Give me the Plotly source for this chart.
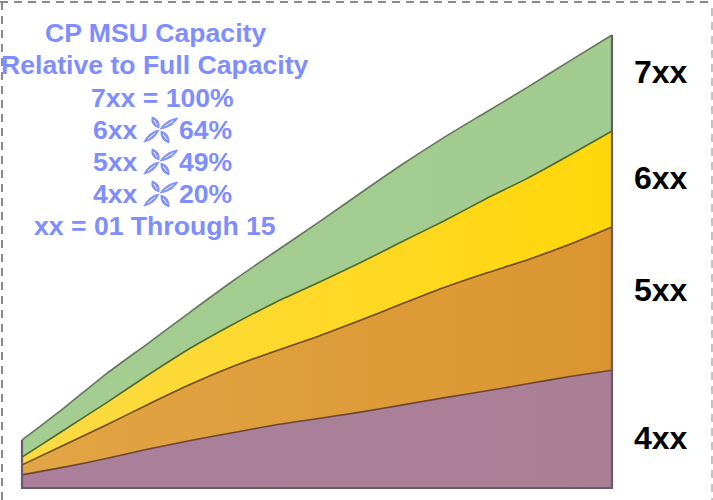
import plotly.graph_objects as go

WIDTH, HEIGHT = 713, 500

# Number of engines on the model range, and cumulative capacity as % of the largest box
engines = [1, 2, 3, 4, 5, 6, 7, 8, 9, 10, 11, 12, 13, 14, 15]
cap_7xx = [10.6, 17.7, 25.2, 32.0, 38.9, 45.7, 52.1, 58.4, 64.9, 71.3, 77.3, 82.9, 88.5, 94.3, 100.0]
cap_6xx = [6.8, 12.8, 18.8, 25.0, 30.9, 36.1, 40.9, 45.2, 49.6, 54.3, 58.9, 63.8, 68.4, 73.5, 78.8]
cap_5xx = [5.1, 9.5, 13.9, 18.5, 22.9, 26.8, 30.2, 33.4, 36.9, 40.6, 44.2, 47.4, 50.4, 53.8, 57.6]
cap_4xx = [2.9, 4.6, 6.5, 8.6, 10.5, 12.2, 13.9, 15.3, 16.7, 18.3, 19.9, 21.4, 23.0, 24.6, 26.0]

series_names = ["7xx", "6xx", "5xx", "4xx"]
series_labels_y = [72, 178, 290, 438]

title_lines = ["CP MSU Capacity", "Relative to Full Capacity", "7xx = 100%"]
title_centres = [155, 155, 162]
ratio_rows = [("6xx", "64%"), ("5xx", "49%"), ("4xx", "20%")]
footer_line = "xx = 01 Through 15"

BLUE = "#7E8EFF"
FONT = "Liberation Sans"

fig = go.Figure()

bands = [
    (cap_7xx, "#A4CD91", "#A2CB90", "#66775C"),
    (cap_6xx, "#FBDA45", "#FFD70A", "#4F6A2A"),
    (cap_5xx, "#E2A545", "#DA9530", "#6E4A12"),
    (cap_4xx, "#AB7F9B", "#AA7F96", "#6E4436"),
]
for name, (vals, left_col, right_col, edge) in zip(series_names, bands):
    fig.add_trace(go.Scatter(
        x=engines, y=vals, name=name, mode="lines", fill="tozeroy",
        fillgradient=dict(type="horizontal", colorscale=[[0, left_col], [1, right_col]]),
        line=dict(color=edge, width=1.6, shape="spline", smoothing=0.6),
        hoverinfo="skip", showlegend=False,
    ))

# Frame around the stacked area: left edge, baseline, right edge
first, last = engines[0], engines[-1]
fig.add_trace(go.Scatter(
    x=[first, first, last, last], y=[cap_7xx[0], 0, 0, cap_7xx[-1]],
    mode="lines", line=dict(color="#6A5A68", width=2.2),
    hoverinfo="skip", showlegend=False,
))


def px(x):
    return x / WIDTH


def py(y):
    return 1 - y / HEIGHT


def text(s, x, y, size=26.6, color=BLUE, anchor="center"):
    fig.add_annotation(
        x=px(x), y=py(y), xref="paper", yref="paper", text=s, showarrow=False,
        xanchor=anchor, yanchor="middle",
        font=dict(family=FONT, size=size, color=color, weight="bold"),
    )


def leaf(x0, y0, x1, y1, bulge):
    # Almond outline between two points, with a pale midrib
    dx, dy = x1 - x0, y1 - y0
    mx, my = (x0 + x1) / 2, (y0 + y1) / 2
    nx, ny = -dy, dx
    n = (nx * nx + ny * ny) ** 0.5
    nx, ny = nx / n * bulge, ny / n * bulge
    outline = (
        f"M {px(x0)} {py(y0)} Q {px(mx + nx)} {py(my + ny)} {px(x1)} {py(y1)} "
        f"Q {px(mx - nx)} {py(my - ny)} {px(x0)} {py(y0)} Z"
    )
    fig.add_shape(type="path", xref="paper", yref="paper", path=outline,
                  fillcolor=BLUE, line=dict(color=BLUE, width=0.8))
    rib = f"M {px(x0 + dx * 0.25)} {py(y0 + dy * 0.25)} L {px(x1 - dx * 0.25)} {py(y1 - dy * 0.25)}"
    fig.add_shape(type="path", xref="paper", yref="paper", path=rib,
                  line=dict(color="white", width=1))


def flourish(cy):
    cx = 161
    leaf(cx - 1, cy - 1, cx + 17, cy - 12, 5)
    leaf(cx - 2, cy, cx - 17, cy + 12, 5)
    leaf(cx - 2, cy - 2, cx - 9, cy - 13, 6)
    leaf(cx, cy + 1, cx + 8, cy + 13, 6)


for line, x, y in zip(title_lines, title_centres, [33, 65, 98]):
    text(line, x, y)
for (left, right), y in zip(ratio_rows, [130, 162, 194]):
    text(left, 140, y, anchor="right")
    text(right, 177, y, anchor="left")
    flourish(y)
text(footer_line, 155, 226)

for name, y in zip(series_names, series_labels_y):
    text(name, 632, y, size=32, color="black", anchor="left")

# Dashed page frame
for x0, y0, x1, y1, col in [
    (0, 2, WIDTH, 2, "#8A8A8A"),
    (2, 2, 2, HEIGHT, "#8A8A8A"),
    (712, 8, 712, HEIGHT, "#C4C4C4"),
]:
    fig.add_shape(type="line", xref="paper", yref="paper",
                  x0=px(x0), y0=py(y0), x1=px(x1), y1=py(y1),
                  line=dict(color=col, width=2, dash="8px,6px"))

fig.update_layout(
    width=WIDTH, height=HEIGHT, margin=dict(l=0, r=0, t=0, b=0),
    paper_bgcolor="white", plot_bgcolor="white", showlegend=False,
    xaxis=dict(visible=False, range=[0.478, 17.397]),
    yaxis=dict(visible=False, range=[-2.65, 107.73]),
)

fig.write_html("out.html", config=dict(displayModeBar=False))
